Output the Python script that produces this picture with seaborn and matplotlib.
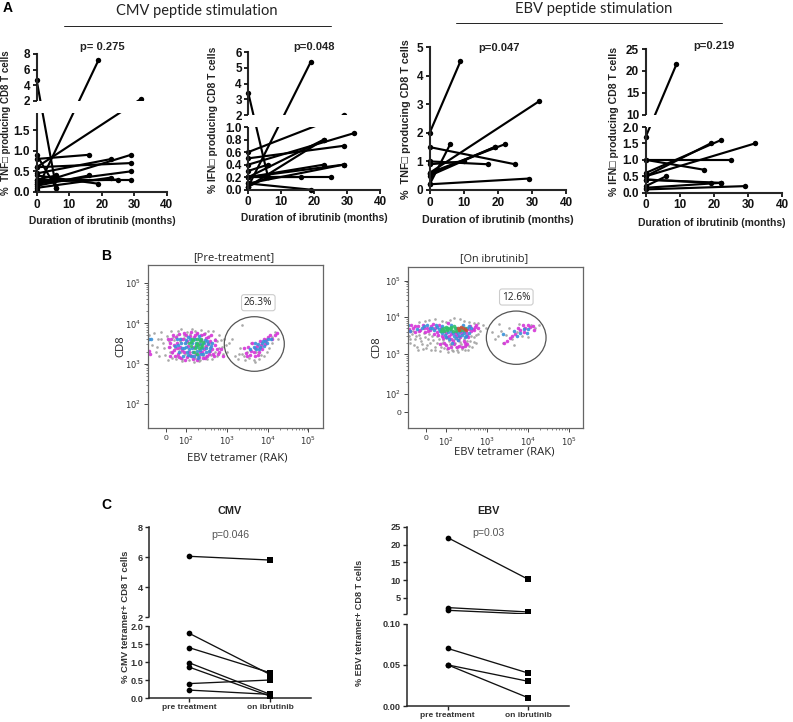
import numpy as np
import pandas as pd
import matplotlib
matplotlib.use("Agg")
import matplotlib.pyplot as plt
import matplotlib.transforms as mtrans
from matplotlib.patches import Ellipse, Rectangle
import seaborn as sns

W, H = 793, 722
sns.set_style("ticks")
BOLD = ["Liberation Sans", "DejaVu Sans"]
plt.rcParams["font.family"] = BOLD

# ---- Panel A data: value at month 0, value at follow-up, follow-up month
a1_start = [0.05, 0.6, 4.6, 0.8, 0.6, 0.2, 0.45, 0.9, 0.2, 0.4, 0.3, 0.25, 0.15, 0.1, 0.3]
a1_end = [7.2, 2.2, 0.1, 0.9, 0.7, 0.9, 0.8, 0.1, 0.5, 0.2, 0.3, 0.3, 0.4, 0.35, 0.4]
a1_month = [19, 32, 6, 16, 29, 29, 23, 6, 29, 19, 29, 25, 16, 23, 6]
a2_start = [0.05, 0.6, 3.4, 0.5, 0.4, 0.2, 0.05, 0.2, 0.2, 0.1, 0.2, 0.2, 0.1, 0.3, 0.05]
a2_end = [5.4, 2.0, 0.2, 0.7, 0.9, 0.8, 0.8, 0.4, 0.4, 0.4, 0.2, 0.2, 0.0, 0.4, 0.2]
a2_month = [19, 29, 6, 29, 32, 23, 23, 29, 23, 29, 25, 16, 19, 6, 6]
a3_start = [2.0, 0.6, 0.5, 0.6, 1.5, 1.0, 0.2, 0.9, 0.2, 0.55]
a3_end = [4.5, 3.1, 1.5, 1.6, 0.9, 0.9, 1.6, 1.0, 0.4, 1.5]
a3_month = [9, 32, 19, 22, 25, 17, 6, 10, 29, 19]
a4_start = [1.7, 0.5, 0.6, 0.5, 1.0, 1.0, 0.2, 0.4, 0.4, 0.1, 0.15]
a4_end = [21.5, 1.5, 1.6, 1.5, 1.0, 0.7, 0.5, 0.3, 0.3, 0.2, 0.3]
a4_month = [9, 19, 22, 32, 25, 17, 6, 19, 22, 29, 22]
month_ticks = [0, 10, 20, 30, 40]

# ---- Panel C data
c_groups = ["pre treatment", "on ibrutinib"]
c1_pre = [6.07, 1.8, 1.4, 0.98, 0.86, 0.4, 0.22]
c1_on = [5.82, 0.65, 0.7, 0.1, 0.05, 0.5, 0.1]
c2_pre = [22.0, 2.2, 1.43, 0.07, 0.05, 0.05]
c2_on = [10.2, 0.96, 0.4, 0.04, 0.03, 0.01]

# ---- Panel B events, read in decades of the cytometer axes
pre_grey = [(1.1,3.72),(1.18,3.45),(1.22,3.75),(1.27,3.3),(1.31,3.62),(1.35,3.18),(1.4,3.78),(1.44,3.5),(1.49,3.22),(1.53,3.68),(1.56,3.1),(1.6,3.41),(1.64,3.82),(1.67,3.27),(1.71,3.58),(1.75,3.12),(1.78,3.71),(1.83,3.36),(1.87,3.85),(1.9,3.07),(1.94,3.63),(1.98,3.24),(2.03,3.79),(2.07,3.1),(2.12,3.53),(2.16,3.86),(2.21,3.15),(2.26,3.74),(2.31,3.06),(2.36,3.83),(2.41,3.19),(2.47,3.77),(2.52,3.11),(2.57,3.68),(2.62,3.22),(2.67,3.8),(2.72,3.3),(2.77,3.55),(2.82,3.7),(2.88,3.42),(2.94,3.62),(3.0,3.28),(3.05,3.5),(3.14,3.62),(3.2,3.2),(3.27,3.12),(3.32,3.4),(3.38,3.96),(3.38,3.23),(3.44,3.08),(3.5,3.3),(3.55,3.15),(3.6,3.52),(3.66,3.1),(3.72,3.28),(3.78,3.12),(3.85,3.42),(3.9,3.2),(3.96,3.6),(4.03,3.38),(4.1,3.5),(4.18,3.78),(4.25,3.62),
 (1.58,3.55),(1.62,3.3),(1.66,3.15),(1.69,3.66),(1.74,3.4),(1.79,3.2),(1.81,3.8),(1.85,3.55),(1.88,3.28),(1.91,3.12),(1.95,3.72),(2.0,3.5),(2.04,3.2),(2.1,3.74),(2.14,3.3),(2.19,3.05),(2.23,3.82),(2.28,3.44),(2.34,3.1),(2.4,3.7),(2.44,3.42),(2.49,3.2),(2.54,3.8),(2.59,3.5),(2.65,3.12),(2.7,3.62),(2.75,3.18),(2.8,3.4),(2.85,3.58),(2.91,3.25),(2.97,3.46),(1.45,3.38),(1.38,3.6),(1.3,3.42),(3.3,3.25),(3.42,3.18),(3.58,3.35),(3.7,3.05),(3.84,3.22),(3.98,3.3),(4.12,3.65)]
pre_magenta = [(1.09,3.32),(1.12,3.25),(1.55,3.62),(1.6,3.2),(1.62,3.5),(1.68,3.7),(1.7,3.34),(1.73,3.18),(1.77,3.52),(1.8,3.25),(1.84,3.74),(1.86,3.42),(1.89,3.14),(1.92,3.6),(1.96,3.28),(2.0,3.7),(2.02,3.16),(2.05,3.44),(2.09,3.22),(2.13,3.78),(2.17,3.12),(2.2,3.66),(2.24,3.24),(2.28,3.76),(2.32,3.17),(2.36,3.58),(2.39,3.3),(2.43,3.74),(2.46,3.14),(2.5,3.44),(2.53,3.66),(2.57,3.25),(2.6,3.55),(2.64,3.36),(2.68,3.18),(2.72,3.47),(2.78,3.24),(2.85,3.36),(2.9,3.2),(3.42,3.38),(3.48,3.26),(3.53,3.42),(3.58,3.22),(3.62,3.5),(3.66,3.3),(3.7,3.18),(3.74,3.44),(3.78,3.28),(3.82,3.55),(3.86,3.36),(3.9,3.62),(3.94,3.48),(4.0,3.66),(4.07,3.72),(4.12,3.62),(4.17,3.7),(4.22,3.75),
 (1.58,3.42),(1.64,3.62),(1.66,3.28),(1.71,3.46),(1.75,3.65),(1.79,3.38),(1.83,3.16),(1.87,3.62),(1.91,3.34),(1.94,3.76),(1.98,3.1),(2.03,3.56),(2.07,3.3),(2.11,3.68),(2.15,3.2),(2.19,3.42),(2.23,3.72),(2.27,3.1),(2.31,3.48),(2.34,3.28),(2.38,3.7),(2.41,3.14),(2.45,3.36),(2.48,3.64),(2.52,3.2),(2.55,3.52),(2.59,3.32),(2.62,3.7),(2.66,3.25),(2.7,3.58),(2.75,3.36),(2.82,3.28),(3.5,3.2),(3.6,3.32),(3.68,3.4),(3.76,3.22),(3.84,3.46),(3.96,3.58)]
pre_blue = [(1.72,3.44),(1.78,3.62),(1.82,3.3),(1.88,3.52),(1.92,3.2),(1.95,3.4),(1.99,3.58),(2.02,3.28),(2.06,3.66),(2.08,3.36),(2.12,3.18),(2.15,3.5),(2.18,3.3),(2.22,3.6),(2.25,3.42),(2.29,3.22),(2.33,3.68),(2.35,3.34),(2.38,3.48),(2.42,3.24),(2.46,3.58),(2.5,3.3),(2.54,3.48),(2.3,3.14),(2.58,3.4),(2.64,3.52),(1.1,3.6),(1.15,3.62),(3.58,3.36),(3.66,3.42),(3.72,3.36),(3.77,3.48),(3.82,3.42),(3.86,3.5),(3.9,3.44),(3.94,3.56),(3.98,3.52),(4.02,3.6),(4.08,3.62),
 (1.8,3.46),(1.85,3.6),(1.9,3.38),(1.97,3.5),(2.01,3.42),(2.05,3.22),(2.1,3.6),(2.14,3.38),(2.2,3.2),(2.24,3.5),(2.27,3.32),(2.32,3.6),(2.37,3.24),(2.4,3.4),(2.44,3.5),(2.48,3.38),(2.52,3.56),(2.56,3.32),(2.62,3.44),(3.7,3.5),(3.8,3.36),(3.88,3.56)]
pre_green = [(2.08,3.5),(2.13,3.44),(2.18,3.58),(2.22,3.38),(2.26,3.52),(2.3,3.46),(2.34,3.56),(2.38,3.42),(2.41,3.53),(2.2,3.28),(2.28,3.24),(2.16,3.62),(2.36,3.62),(2.24,3.46),(2.32,3.4),(2.12,3.54),(2.4,3.46),(2.28,3.6)]
on_grey = [(1.1,3.5),(1.14,3.3),(1.2,3.62),(1.25,3.42),(1.3,3.2),(1.35,3.52),(1.4,3.35),(1.45,3.14),(1.5,3.45),(1.55,3.25),(1.6,3.55),(1.64,3.1),(1.7,3.38),(1.75,3.2),(1.8,3.5),(1.85,3.08),(1.9,3.3),(1.95,3.16),(2.0,3.44),(2.05,3.06),(2.1,3.27),(2.15,3.12),(2.2,3.4),(2.25,3.2),(2.3,3.05),(2.35,3.32),(2.4,3.14),(2.45,3.42),(2.5,3.24),(2.55,3.1),(2.6,3.35),(2.65,3.2),(2.7,3.45),(2.75,3.3),(2.8,3.55),(1.5,3.9),(1.75,3.95),(2.0,3.88),(2.2,3.98),(2.45,3.9),(2.7,3.85),(2.9,3.78),(2.98,3.7),(3.12,3.6),(3.2,3.4),(3.27,3.5),(3.34,3.62),(3.4,3.3),(3.48,3.52),(3.55,3.7),(3.62,3.42),(3.68,3.25),(3.75,3.6),(3.8,3.82),(3.86,3.48),(3.92,3.7),(4.0,3.45),(4.08,3.8),(4.18,3.72),(4.28,3.78),(3.3,3.82),
 (1.12,3.42),(1.17,3.55),(1.23,3.25),(1.28,3.48),(1.33,3.12),(1.38,3.44),(1.43,3.28),(1.48,3.56),(1.53,3.16),(1.58,3.4),(1.62,3.3),(1.67,3.48),(1.73,3.12),(1.78,3.3),(1.83,3.42),(1.88,3.18),(1.93,3.38),(1.98,3.26),(2.03,3.14),(2.08,3.36),(2.13,3.24),(2.18,3.08),(2.23,3.3),(2.28,3.12),(2.33,3.42),(2.38,3.28),(2.43,3.2),(2.48,3.1),(2.53,3.36),(2.58,3.22),(2.63,3.48),(2.68,3.34),(2.73,3.52),(2.85,3.62),(1.35,3.88),(1.6,3.92),(1.9,3.9),(2.1,3.92),(2.35,3.95),(2.58,3.88),(2.8,3.84)]
on_magenta = [(1.1,3.68),(1.15,3.78),(1.2,3.72),(1.26,3.6),(1.32,3.75),(1.38,3.66),(1.44,3.8),(1.5,3.6),(1.55,3.72),(1.62,3.66),(1.68,3.82),(1.72,3.55),(1.78,3.6),(1.84,3.78),(1.9,3.5),(1.96,3.62),(2.02,3.45),(2.06,3.84),(2.12,3.55),(2.17,3.36),(2.22,3.6),(2.28,3.48),(2.33,3.22),(2.38,3.56),(2.44,3.36),(2.5,3.6),(2.55,3.46),(2.6,3.75),(2.66,3.68),(2.72,3.74),(2.78,3.7),(1.85,3.28),(2.0,3.25),(2.12,3.2),(2.4,3.18),(2.52,3.28),(3.42,3.3),(3.5,3.36),(3.56,3.44),(3.62,3.5),(3.7,3.54),(3.76,3.72),(3.82,3.66),(3.88,3.78),(3.94,3.72),(4.0,3.8),(4.06,3.74),(4.12,3.76),(3.9,3.6),(4.15,3.66),
 (1.14,3.64),(1.24,3.76),(1.35,3.62),(1.47,3.7),(1.58,3.62),(1.65,3.76),(1.75,3.72),(1.82,3.52),(1.88,3.72),(1.94,3.44),(2.0,3.58),(2.08,3.5),(2.14,3.42),(2.2,3.28),(2.25,3.55),(2.31,3.38),(2.36,3.46),(2.42,3.62),(2.47,3.3),(2.53,3.52),(2.58,3.68),(2.63,3.62),(2.7,3.66),(2.75,3.78),(1.95,3.3),(2.06,3.16),(2.28,3.18),(2.46,3.22)]
on_blue = [(1.08,3.8),(1.12,3.62),(1.3,3.68),(1.42,3.72),(1.55,3.78),(1.62,3.72),(1.72,3.66),(1.8,3.74),(1.86,3.62),(1.92,3.76),(1.98,3.52),(2.03,3.68),(2.09,3.42),(2.14,3.78),(2.2,3.5),(2.26,3.72),(2.3,3.38),(2.36,3.64),(2.42,3.78),(2.47,3.46),(2.53,3.7),(2.58,3.58),(2.3,3.56),(2.15,3.3),(3.4,3.55),(3.66,3.62),(3.74,3.48),(3.82,3.58),(3.9,3.68),(3.98,3.56),(4.0,3.68),
 (1.46,3.76),(1.66,3.7),(1.76,3.78),(1.84,3.68),(1.9,3.58),(2.0,3.46),(2.06,3.6),(2.12,3.64),(2.18,3.56),(2.24,3.44),(2.32,3.48),(2.4,3.52),(2.45,3.58),(2.5,3.5),(2.56,3.76),(2.62,3.7)]
on_green = [(1.92,3.68),(1.97,3.72),(2.02,3.66),(2.06,3.72),(2.1,3.67),(2.14,3.7),(2.18,3.64),(2.22,3.7),(2.28,3.66),(2.34,3.7),(2.42,3.66),(2.48,3.7),(2.0,3.74),(1.88,3.64),(2.2,3.76),(2.04,3.7),(2.12,3.74),(2.26,3.62),(2.36,3.66),(1.95,3.64)]
on_red = [(2.3,3.72),(2.38,3.74),(2.46,3.68),(2.5,3.66),(2.33,3.66),(2.42,3.7)]
flow_decades = [2, 3, 4, 5]
flow_labels = ["$10^{2}$", "$10^{3}$", "$10^{4}$", "$10^{5}$"]

fig = plt.figure(figsize=(W / 100, H / 100), dpi=100)
px = mtrans.Affine2D().scale(1, -1).translate(0, H)


def box(l, t, r, b):
    return fig.add_axes([l / W, 1 - b / H, (r - l) / W, (b - t) / H])


def label(x, y, s, **kw):
    kw.setdefault("ha", "center")
    kw.setdefault("va", "center")
    return fig.text(x, y, s, transform=px, **kw)


def piecewise(ax, values, pixels):
    ax.set_yscale("function", functions=(lambda v: np.interp(v, values, pixels),
                                         lambda p: np.interp(p, pixels, values)))
    ax.set_ylim(values[0], values[-1])


def gap(ax, lo, hi):
    ax.yaxis.set_zorder(5)
    ax.add_patch(Rectangle((-0.04, lo), 1.06, hi - lo, transform=ax.get_yaxis_transform(),
                           facecolor="white", edgecolor="none", zorder=4, clip_on=False))


def panel_a(box_px, start, end, month, values, pixels, yticks, ylabels, brk, ylab, yl_xy, yl_fs, xl_xy, xl_fs, p, p_xy):
    ax = box(*box_px)
    n = len(start)
    df = pd.DataFrame({"subject": list(range(n)) * 2, "month": [0] * n + month, "pct": start + end})
    sns.lineplot(data=df, x="month", y="pct", units="subject", estimator=None, color="black",
                 marker="o", markersize=3.9, markeredgewidth=0, linewidth=1.55, clip_on=False,
                 legend=False, ax=ax, sort=False)
    ax.set_xlim(0, 40)
    piecewise(ax, values, pixels)
    ax.set_xticks(month_ticks)
    ax.set_yticks(yticks, ylabels)
    ax.tick_params(length=3.2, width=1.3, labelsize=8.5, pad=1.5, colors="#111111")
    for t in ax.get_xticklabels() + ax.get_yticklabels():
        t.set_fontweight("bold")
    sns.despine(ax=ax)
    for s in ("left", "bottom"):
        ax.spines[s].set_linewidth(1.5)
    if brk:
        gap(ax, *brk)
    ax.set_xlabel("Duration of ibrutinib (months)", fontweight="bold", fontsize=xl_fs, color="#222222", va="center")
    ax.xaxis.set_label_coords(xl_xy[0], xl_xy[1], transform=px)
    ax.set_ylabel(ylab, fontweight="bold", fontsize=yl_fs, color="#222222", va="center")
    ax.yaxis.set_label_coords(yl_xy[0], yl_xy[1], transform=px)
    label(p_xy[0], p_xy[1], p, fontweight="bold", fontsize=8.0, color="#222222")


panel_a((36.7, 54, 166.7, 192), a1_start, a1_end, a1_month, [0, 1.92, 2, 8], [0, 79.3, 91.3, 138],
        [0, 0.5, 1.0, 1.5, 2, 4, 6, 8], ["0.0", "0.5", "1.0", "1.5", "2", "4", "6", "8"], (1.92, 2),
        "%  TNF□ producing CD8 T cells", (6, 122.5), 7.0, (102, 220.7), 7.4, "p= 0.275", (102, 47))
panel_a((248.3, 52.3, 380, 189.7), a2_start, a2_end, a2_month, [0, 1, 2, 6], [0, 62.7, 74.7, 137.4],
        [0, 0.2, 0.4, 0.6, 0.8, 1.0, 2, 3, 4, 5, 6], ["0.0", "0.2", "0.4", "0.6", "0.8", "1.0", "2", "3", "4", "5", "6"], (1, 2),
        "% IFN□ producing CD8 T cells", (213, 120), 7.35, (314, 217.7), 7.4, "p=0.048", (314, 47))
panel_a((429.7, 47, 566.3, 190), a3_start, a3_end, a3_month, [0, 5], [0, 143],
        [0, 1, 2, 3, 4, 5], ["0", "1", "2", "3", "4", "5"], None,
        "%  TNF□ producing CD8 T cells", (406, 119), 7.75, (497.7, 220), 7.7, "p=0.047", (499, 48))
panel_a((645.7, 49, 782.3, 192.7), a4_start, a4_end, a4_month, [0, 2, 10, 25], [0, 65.7, 78, 143.7],
        [0, 0.5, 1.0, 1.5, 2.0, 10, 15, 20, 25], ["0.0", "0.5", "1.0", "1.5", "2.0", "10", "15", "20", "25"], (2, 10),
        "% IFN□ producing CD8 T cells", (613.7, 121), 7.6, (712, 223.3), 7.5, "p=0.219", (714, 46))

# ---- Panel B


def panel_b(box_px, xlim, y_values, y_pixels, groups, yticks, ell, pct, pct_xy, title, title_xy, title_fs, xl_xy, yl_xy):
    ax = box(*box_px)
    palette = {"grey": "#a0a0a0", "magenta": "#d535d8", "blue": "#3890d8", "green": "#2fc06a", "red": "#c8503a"}
    for name, pts in groups:
        df = pd.DataFrame(pts, columns=["tetramer", "cd8"])
        sns.scatterplot(data=df, x="tetramer", y="cd8", color=palette[name], s=6.5 if name != "grey" else 3.6,
                        linewidth=0, marker="o", alpha=0.9, legend=False, ax=ax)
    ax.set_xlim(*xlim)
    piecewise(ax, y_values, y_pixels)
    ax.set_xticks([1.51] + flow_decades, ["0"] + flow_labels)
    ax.set_yticks(yticks[0], yticks[1])
    minors = [d + np.log10(k) for d in range(2, 5) for k in range(2, 10)]
    ax.set_xticks(minors, minor=True)
    ax.set_yticks([m for m in minors if m > 2.0], minor=True)
    ax.tick_params(which="major", length=3, width=0.7, labelsize=6, pad=2, color="#444444", labelcolor="#333333")
    ax.tick_params(which="minor", length=1.5, width=0.5, color="#555555")
    for s in ax.spines.values():
        s.set_linewidth(0.9)
        s.set_color("#666666")
    ax.add_patch(Ellipse(ell[:2], ell[2], ell[3], transform=px, facecolor="none", edgecolor="#555555", linewidth=0.9))
    ax.set_xlabel("EBV tetramer (RAK)", fontfamily="Open Sans", fontsize=8.1, color="#222222", va="center")
    ax.xaxis.set_label_coords(xl_xy[0], xl_xy[1], transform=px)
    ax.set_ylabel("CD8", fontfamily="Open Sans", fontsize=8.1, color="#222222", va="center")
    ax.yaxis.set_label_coords(yl_xy[0], yl_xy[1], transform=px)
    label(title_xy[0], title_xy[1], title, fontfamily="Open Sans", fontsize=title_fs, color="#222222")
    label(pct_xy[0], pct_xy[1], pct, fontfamily="Open Sans", fontsize=7.3, color="#222222",
          bbox=dict(boxstyle="round,pad=0.25", facecolor="white", edgecolor="#cccccc", linewidth=0.8))


panel_b((148, 265.2, 323.3, 427.8), (1.07, 5.365), [1.41, 5.44], [0, 162.6],
        [("grey", pre_grey), ("magenta", pre_magenta), ("blue", pre_blue), ("green", pre_green)],
        (flow_decades, flow_labels), (254.3, 344, 60, 54.6), "26.3%", (258.3, 302.7),
        "[Pre-treatment]", (234, 257.3), 8.0, (237, 458.3), (121, 346))
panel_b((408, 266.5, 583.3, 428.3), (1.08, 5.36), [1.1, 1.5, 2, 3, 4, 5, 5.42],
        [0, 16, 34.3, 74.3, 111, 147.6, 161.8],
        [("grey", on_grey), ("magenta", on_magenta), ("blue", on_blue), ("green", on_green), ("red", on_red)],
        ([1.5] + flow_decades, ["0"] + flow_labels), (516.2, 337.7, 59.7, 53.3), "12.6%", (516.3, 297),
        "[On ibrutinib]", (494, 259), 7.8, (504, 452.3), (376.7, 347.3))

# ---- Panel C


def panel_c(box_px, xlim, pre, on, values, pixels, yticks, ylabels, brk, ylab, yl_xy, yl_fs, title, title_xy, p, p_xy):
    ax = box(*box_px)
    n = len(pre)
    df = pd.DataFrame({"subject": list(range(n)) * 2, "group": [c_groups[0]] * n + [c_groups[1]] * n, "pct": pre + on})
    sns.lineplot(data=df, x="group", y="pct", units="subject", estimator=None, color="#111111", linewidth=0.95,
                 legend=False, ax=ax, sort=False, clip_on=False)
    for g, m in zip(c_groups, ["o", "s"]):
        sns.scatterplot(data=df[df["group"] == g], x="group", y="pct", color="black", marker=m, s=17, linewidth=0,
                        legend=False, ax=ax, clip_on=False, zorder=3)
    ax.set_xlim(*xlim)
    piecewise(ax, values, pixels)
    ax.set_yticks(yticks, ylabels)
    ax.tick_params(length=3, width=1.0, labelsize=6.6, pad=1.5, labelcolor="#333333")
    ax.tick_params(axis="x", pad=1.0, labelsize=6.0)
    for t in ax.get_xticklabels() + ax.get_yticklabels():
        t.set_fontweight("bold")
    sns.despine(ax=ax)
    for s in ("left", "bottom"):
        ax.spines[s].set_linewidth(1.1)
    if brk:
        gap(ax, *brk)
    ax.set_xlabel("")
    ax.set_ylabel(ylab, fontweight="bold", fontsize=yl_fs, color="#333333", va="center")
    ax.yaxis.set_label_coords(yl_xy[0], yl_xy[1], transform=px)
    label(title_xy[0], title_xy[1], title, fontweight="bold", fontsize=7.8, color="#222222")
    label(p_xy[0], p_xy[1], p, fontsize=7.6, color="#555555")


panel_c((149.3, 527.3, 310.7, 698), (-0.488, 1.497), c1_pre, c1_on, [0, 2.0, 2.01, 8], [0, 72, 80.7, 170.7],
        [0, 0.5, 1.0, 1.5, 2.0, 2.01, 4, 6, 8], ["0.0", "0.5", "1.0", "1.5", "2.0", "2", "4", "6", "8"], (2.0, 2.01),
        "% CMV tetramer+ CD8 T cells", (125.7, 617), 6.8, "CMV", (230, 510.7), "p=0.046", (230, 535))
panel_c((407.3, 527, 569, 706), (-0.5, 1.506), c2_pre, c2_on, [0, 0.1, 0.3, 25], [0, 82.3, 91.7, 179],
        [0, 0.05, 0.1, 0.3, 5, 10, 15, 20, 25], ["0.00", "0.05", "0.10", "", "5", "10", "15", "20", "25"], (0.1, 0.3),
        "% EBV tetramer+ CD8 T cells", (359.3, 622.5), 6.6, "EBV", (488.3, 510.7), "p=0.03", (488, 533))

# ---- Header rules, section titles and panel letters
label(197, 11, "CMV peptide stimulation", fontfamily="Lato", fontsize=10.55, color="#222222")
label(594, 9, "EBV peptide stimulation", fontfamily="Lato", fontsize=10.6, color="#222222")
fig.add_artist(plt.Line2D([64, 331], [26, 26], transform=px, color="#222222", linewidth=0.7))
fig.add_artist(plt.Line2D([456, 722], [22.7, 22.7], transform=px, color="#222222", linewidth=0.7))
for s, x, y in [("A", 8, 8), ("B", 106, 256), ("C", 106.7, 505)]:
    label(x, y, s, fontweight="bold", fontsize=10, color="black")

fig.savefig("out.png", dpi=100)
